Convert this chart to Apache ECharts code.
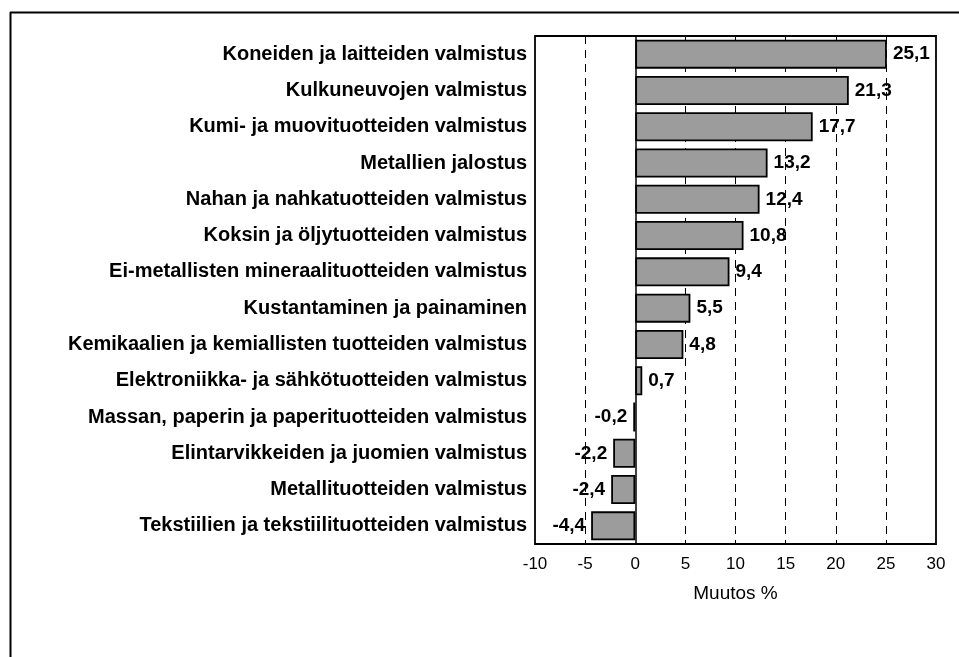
<!DOCTYPE html>
<html>
<head>
<meta charset="utf-8">
<script src="https://cdn.jsdelivr.net/npm/echarts@6/dist/echarts.min.js"></script>
<style>
html,body{margin:0;padding:0;background:#fff;}
#c{width:959px;height:657px;}
</style>
</head>
<body>
<div id="c"></div>
<script>
var categories = [
  "Koneiden ja laitteiden valmistus",
  "Kulkuneuvojen valmistus",
  "Kumi- ja muovituotteiden valmistus",
  "Metallien jalostus",
  "Nahan ja nahkatuotteiden valmistus",
  "Koksin ja öljytuotteiden valmistus",
  "Ei-metallisten mineraalituotteiden valmistus",
  "Kustantaminen ja painaminen",
  "Kemikaalien ja kemiallisten tuotteiden valmistus",
  "Elektroniikka- ja sähkötuotteiden valmistus",
  "Massan, paperin ja paperituotteiden valmistus",
  "Elintarvikkeiden ja juomien valmistus",
  "Metallituotteiden valmistus",
  "Tekstiilien ja tekstiilituotteiden valmistus"
];
var values = [25.1, 21.3, 17.7, 13.2, 12.4, 10.8, 9.4, 5.5, 4.8, 0.7, -0.2, -2.2, -2.4, -4.4];
var xTicks = [-10, -5, 0, 5, 10, 15, 20, 25, 30];
var axisTitle = "Muutos %";

var chart = echarts.init(document.getElementById('c'), null, {renderer: 'canvas'});
var seriesData = values.map(function (v) {
  return { value: v, label: { position: v < 0 ? 'left' : 'right' } };
});
chart.setOption({
  animation: false,
  backgroundColor: '#fff',
  grid: { left: 535, right: 23, top: 36, bottom: 113, show: true, borderColor: '#000', borderWidth: 1.8, backgroundColor: 'transparent' },
  xAxis: {
    type: 'value', min: xTicks[0], max: xTicks[xTicks.length - 1], interval: 5,
    axisLine: { show: false }, axisTick: { show: false },
    axisLabel: { color: '#000', fontFamily: 'Liberation Sans, Arial, sans-serif', fontSize: 17, margin: 12 },
    splitLine: {
      show: true,
      lineStyle: { color: ['transparent', '#000', 'transparent', '#000', '#000', '#000', '#000', '#000', 'transparent'], type: [8, 6], width: 1 }
    },
    name: axisTitle, nameLocation: 'middle', nameGap: 40,
    nameTextStyle: { color: '#000', fontFamily: 'Liberation Sans, Arial, sans-serif', fontSize: 19 }
  },
  yAxis: {
    type: 'category', data: categories, inverse: true,
    axisLine: { show: false }, axisTick: { show: false }, splitLine: { show: false },
    axisLabel: { color: '#000', fontFamily: 'Liberation Sans, Arial, sans-serif', fontWeight: 'bold', fontSize: 20, margin: 8 }
  },
  series: [{
    type: 'bar', data: seriesData, barCategoryGap: '20%',
    itemStyle: { color: '#9c9c9c', borderColor: '#000', borderWidth: 1.8 },
    label: {
      show: true, distance: 6, color: '#000', fontWeight: 'bold', fontSize: 19,
      fontFamily: 'Liberation Sans Narrow, Arial Narrow, Liberation Sans, sans-serif',
      formatter: function (p) { return p.value.toFixed(1).replace('.', ','); }
    },
    markLine: {
      silent: true, symbol: 'none', label: { show: false },
      lineStyle: { color: '#000', type: 'solid', width: 1.5 },
      data: [{ xAxis: 0 }]
    }
  }],
  graphic: [
    { type: 'line', shape: { x1: 10.5, y1: 12, x2: 10.5, y2: 657 }, style: { stroke: '#000', lineWidth: 2 } },
    { type: 'line', shape: { x1: 10, y1: 12.5, x2: 959, y2: 12.5 }, style: { stroke: '#000', lineWidth: 2 } }
  ]
});
</script>
</body>
</html>
